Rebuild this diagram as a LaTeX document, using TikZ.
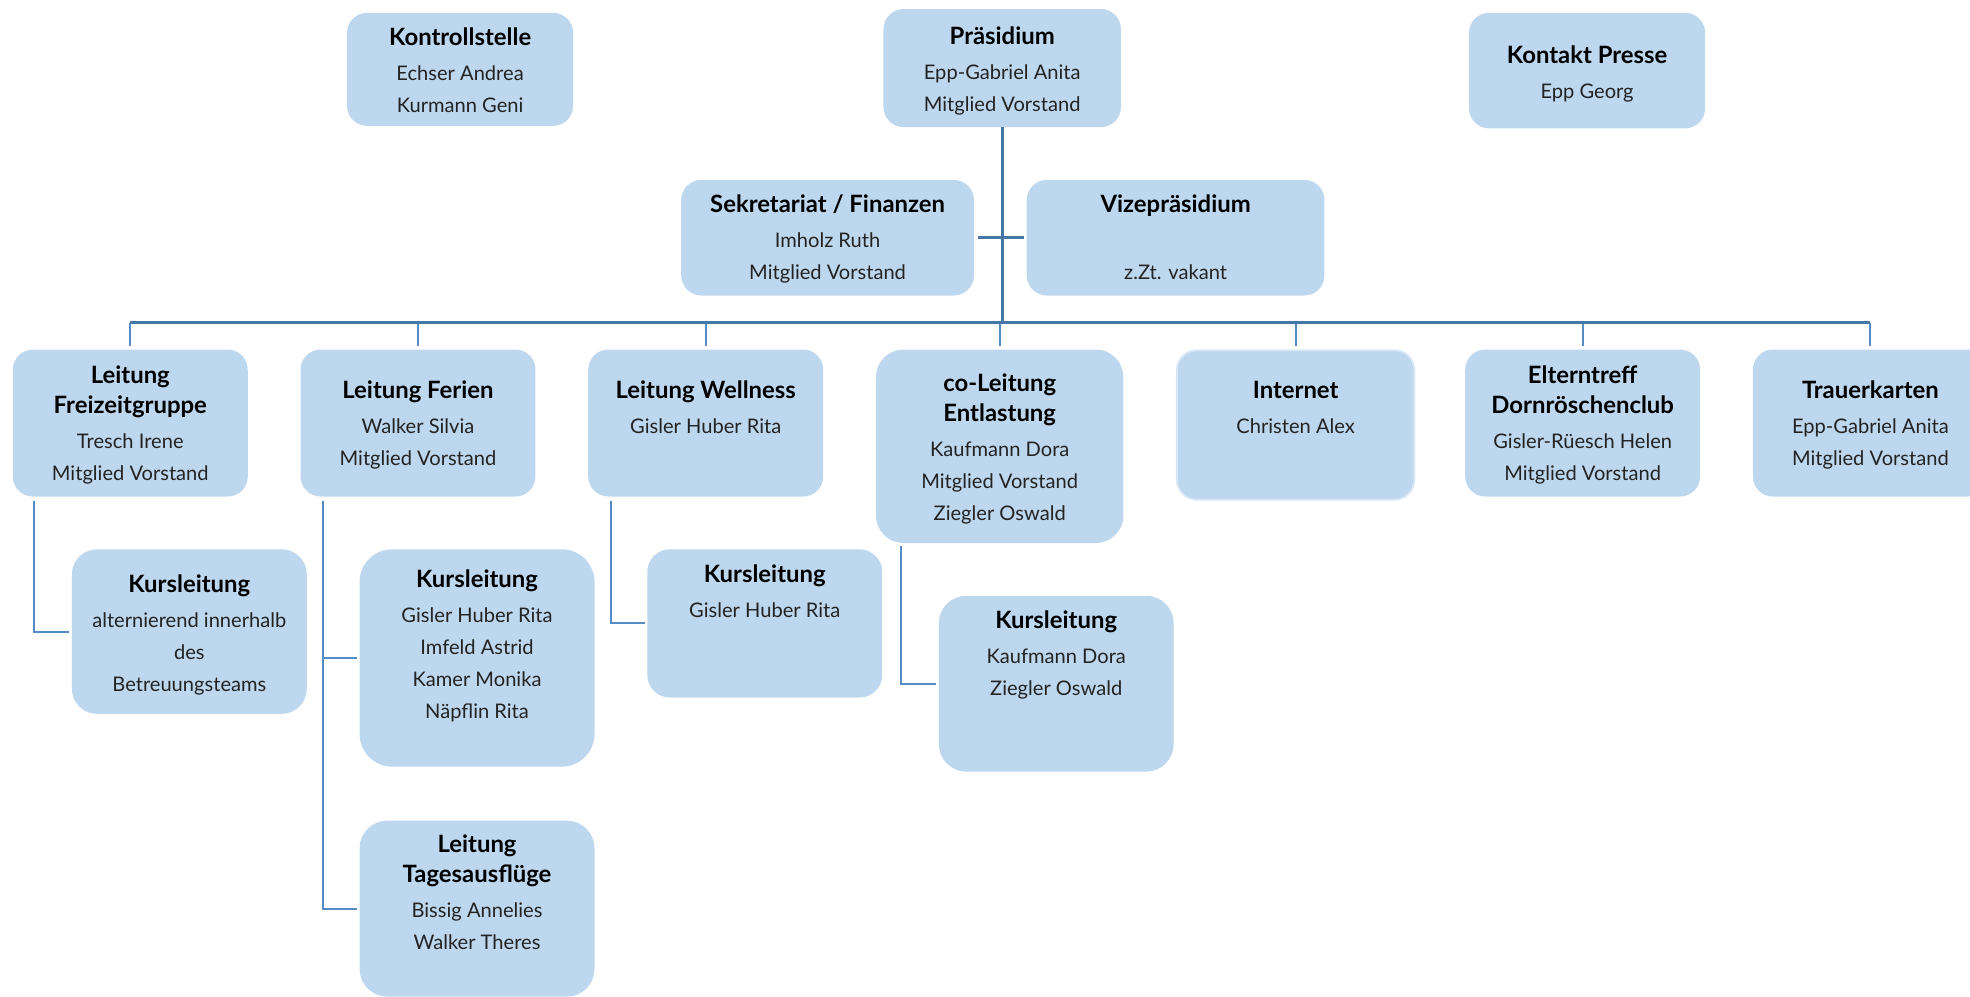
\documentclass[tikz,border=0pt]{standalone}
\usepackage{fontspec}
\setmainfont{Lato}
\usepackage{tikz}
\usetikzlibrary{calc}

\definecolor{boxblue}{RGB}{189,215,238}
\definecolor{trunkblue}{RGB}{69,120,168}
\definecolor{linkblue}{RGB}{86,140,198}
\definecolor{bodygray}{RGB}{35,35,35}
\newcommand{\orgtitle}[1]{{\fontsize{19}{23}\selectfont\bfseries\color{black}#1}}

\begin{document}
\begin{tikzpicture}[x=1pt, y=1pt,
	box/.style={fill=boxblue, rounded corners=16pt, inner sep=0pt, anchor=north west},
	txt/.style={align=center, anchor=north, inner sep=0pt, text=bodygray, font=\fontsize{16}{25.5}\selectfont},
	trunk/.style={draw=trunkblue, line width=2.3pt},
	link/.style={draw=linkblue, line width=1.6pt}]
	\useasboundingbox (0,0) rectangle (1568,-793);
	\coordinate (bus) at (0,-257);

	\node [box, minimum width=180pt, minimum height=90pt] (kontroll) at (276,-10) {};
	\node [box, minimum width=189pt, minimum height=94pt] (praes) at (703,-7) {};
	\node [box, minimum width=188pt, minimum height=92pt] (presse) at (1169,-10) {};
	\node [box, minimum width=233pt, minimum height=92pt] (sekr) at (542,-143) {};
	\node [box, minimum width=237pt, minimum height=92pt] (vize) at (817,-143) {};

	\node [box, minimum width=187pt, minimum height=117pt] (freizeit) at (10,-278) {};
	\node [box, minimum width=187pt, minimum height=117pt] (ferien) at (239,-278) {};
	\node [box, minimum width=187pt, minimum height=117pt] (wellness) at (468,-278) {};
	\node [box, minimum width=197pt, minimum height=154pt, rounded corners=22pt] (entlast) at (697,-278) {};
	\node [box, minimum width=189pt, minimum height=119pt, draw=boxblue!60!white, line width=1.5pt] (internet) at (936,-278) {};
	\node [box, minimum width=187pt, minimum height=117pt] (eltern) at (1166,-278) {};
	\node [box, minimum width=187pt, minimum height=117pt] (trauer) at (1395,-278) {};

	\node [box, minimum width=187pt, minimum height=131pt, rounded corners=20pt] (kursA) at (57,-437) {};
	\node [box, minimum width=187pt, minimum height=173pt, rounded corners=26pt] (kursB) at (286,-437) {};
	\node [box, minimum width=187pt, minimum height=140pt, rounded corners=22pt] (tages) at (286,-653) {};
	\node [box, minimum width=187pt, minimum height=118pt, rounded corners=18pt] (kursC) at (515,-437) {};
	\node [box, minimum width=187pt, minimum height=140pt, rounded corners=22pt] (kursD) at (747,-474) {};

	\node [txt] (kontroll-t) at ([yshift=-12pt]kontroll.north) {\orgtitle{Kontrollstelle}\\[2.5pt] Echser Andrea\\ Kurmann Geni};
	\node [txt] (praes-t) at ([yshift=-14pt]praes.north) {\orgtitle{Präsidium}\\[2.5pt] Epp-Gabriel Anita\\ Mitglied Vorstand};
	\node [txt] (presse-t) at ([yshift=-26pt]presse.north) {\orgtitle{Kontakt Presse}\\[2.5pt] Epp Georg};
	\node [txt] (sekr-t) at ([yshift=-12pt]sekr.north) {\orgtitle{Sekretariat / Finanzen}\\[2.5pt] Imholz Ruth\\ Mitglied Vorstand};
	\node [txt] (vize-t) at ([yshift=-12pt]vize.north) {\orgtitle{Vizepräsidium}\\[2.5pt] \mbox{}\\ z.Zt. vakant};

	\node [txt] (freizeit-t) at ([yshift=-13pt]freizeit.north) {\orgtitle{Leitung}\\[-1.5pt] \orgtitle{Freizeitgruppe}\\[2.5pt] Tresch Irene\\ Mitglied Vorstand};
	\node [txt] (ferien-t) at ([yshift=-25pt]ferien.north) {\orgtitle{Leitung Ferien}\\[2.5pt] Walker Silvia\\ Mitglied Vorstand};
	\node [txt] (wellness-t) at ([yshift=-25pt]wellness.north) {\orgtitle{Leitung Wellness}\\[2.5pt] Gisler Huber Rita};
	\node [txt] (entlast-t) at ([yshift=-19pt]entlast.north) {\orgtitle{co-Leitung}\\[-1.5pt] \orgtitle{Entlastung}\\[2.5pt] Kaufmann Dora\\ Mitglied Vorstand\\ Ziegler Oswald};
	\node [txt] (internet-t) at ([yshift=-25pt]internet.north) {\orgtitle{Internet}\\[2.5pt] Christen Alex};
	\node [txt] (eltern-t) at ([yshift=-13pt]eltern.north) {\orgtitle{Elterntreff}\\[-1.5pt] \orgtitle{Dornröschenclub}\\[2.5pt] Gisler-Rüesch Helen\\ Mitglied Vorstand};
	\node [txt] (trauer-t) at ([yshift=-25pt]trauer.north) {\orgtitle{Trauerkarten}\\[2.5pt] Epp-Gabriel Anita\\ Mitglied Vorstand};

	\node [txt] (kursA-t) at ([yshift=-20pt]kursA.north) {\orgtitle{Kursleitung}\\[2.5pt] alternierend innerhalb\\ des\\ Betreuungsteams};
	\node [txt] (kursB-t) at ([yshift=-16pt]kursB.north) {\orgtitle{Kursleitung}\\[2.5pt] Gisler Huber Rita\\ Imfeld Astrid\\ Kamer Monika\\ Näpflin Rita};
	\node [txt] (tages-t) at ([yshift=-11pt]tages.north) {\orgtitle{Leitung}\\[-1.5pt] \orgtitle{Tagesausflüge}\\[2.5pt] Bissig Annelies\\ Walker Theres};
	\node [txt] (kursC-t) at ([yshift=-12pt]kursC.north) {\orgtitle{Kursleitung}\\[2.5pt] Gisler Huber Rita};
	\node [txt] (kursD-t) at ([yshift=-12pt]kursD.north) {\orgtitle{Kursleitung}\\[2.5pt] Kaufmann Dora\\ Ziegler Oswald};

	\foreach \n in {freizeit, ferien, wellness, entlast, internet, eltern, trauer}
		\draw [link] (\n.north |- bus) -- ([yshift=3pt]\n.north);
	\draw [trunk] (praes.south) -- (praes.south |- bus);
	\draw [trunk] ([xshift=3pt]sekr.east) -- ([xshift=-2pt]vize.west);
	\draw [trunk] (freizeit.north |- bus) -- (trauer.north |- bus);

	\draw [link] ([xshift=17pt,yshift=-3pt]freizeit.south west) |- ([xshift=-2pt]kursA.west);
	\draw [link] ([xshift=18pt,yshift=-3pt]ferien.south west) |- ([xshift=-2pt]kursB.west);
	\draw [link] ([xshift=18pt,yshift=-3pt]ferien.south west) |- ([xshift=-2pt]tages.west);
	\draw [link] ([xshift=18pt,yshift=-3pt]wellness.south west) |- ([xshift=-2pt]kursC.west);
	\draw [link] ([xshift=20pt,yshift=-2pt]entlast.south west) |- ([xshift=-2pt]kursD.west);
\end{tikzpicture}
\end{document}
